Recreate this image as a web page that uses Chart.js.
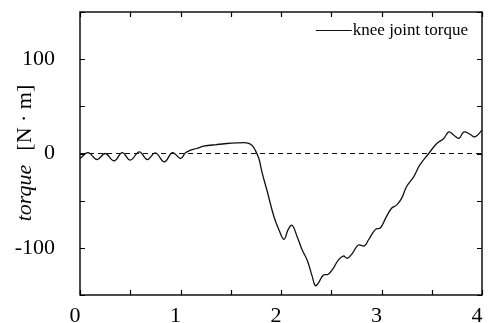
<!DOCTYPE html>
<html>
<head>
<meta charset="utf-8">
<script src="https://cdn.jsdelivr.net/npm/chart.js@4.4.1/dist/chart.umd.min.js"></script>
<style>
  html, body { margin: 0; padding: 0; background: #fff; }
  #wrap { width: 488px; height: 323px; position: relative; }
</style>
</head>
<body>
<div id="wrap"><canvas id="c" width="488" height="323"></canvas></div>
<script>
// ---- data ----
const timeValues = [
  0.00, 0.08, 0.17, 0.25, 0.34, 0.42, 0.50, 0.59, 0.67, 0.75, 0.84, 0.92, 1.00, 1.05,
  1.10, 1.16, 1.23, 1.36, 1.46, 1.56, 1.66, 1.71, 1.74, 1.78, 1.81, 1.86, 1.93, 1.98,
  2.03, 2.07, 2.11, 2.16, 2.21, 2.26, 2.31, 2.34, 2.37, 2.42, 2.47, 2.52, 2.57, 2.62,
  2.66, 2.71, 2.77, 2.83, 2.87, 2.94, 2.99, 3.04, 3.10, 3.15, 3.20, 3.25, 3.32, 3.38,
  3.47, 3.55, 3.62, 3.67, 3.72, 3.77, 3.82, 3.88, 3.93, 4.00
];
const torqueValues = [
  -5.3, 1.0, -6.4, 0.0, -7.8, 1.0, -7.0, 1.7, -6.4, 0.7, -8.9, 1.0, -5.3, 0.7,
  3.5, 5.3, 7.7, 9.5, 10.6, 11.2, 11.2, 8.8, 4.2, -5.3, -19.5, -39, -67, -81,
  -91, -81, -76, -88, -102, -113, -130, -140, -137.6, -129, -128, -121.7, -113, -108.7,
  -111, -105.8, -97, -98, -91.7, -80.4, -78.7, -68.8, -58, -54.7, -47.6, -35, -24.7, -12.4,
  0, 10.6, 16, 22.9, 19.4, 16, 22.9, 20.4, 17.6, 24.7
];
const zeroLineX = [0, 4];
const zeroLineY = [0, 0];
const xTickLabels = [0, 1, 2, 3, 4];
const yTickLabels = [-100, 0, 100];
const seriesLabel = 'knee joint torque';
const yTitleItalic = 'torque';
const yTitleUnit = '[N \u00b7 m]';

const SERIF = '"Liberation Serif", "Times New Roman", serif';

const frameTicks = {
  id: 'frameTicks',
  afterDraw(chart) {
    const { ctx, chartArea: a, scales } = chart;
    ctx.save();
    ctx.strokeStyle = '#000';
    ctx.lineWidth = 1.4;
    ctx.strokeRect(a.left, a.top, a.right - a.left, a.bottom - a.top);
    ctx.lineWidth = 1.2;
    const L = 5;
    scales.x.ticks.forEach(t => {
      const px = Math.round(scales.x.getPixelForValue(t.value)) + 0.5;
      ctx.beginPath();
      ctx.moveTo(px, a.bottom); ctx.lineTo(px, a.bottom - L);
      ctx.moveTo(px, a.top); ctx.lineTo(px, a.top + L);
      ctx.stroke();
    });
    scales.y.ticks.forEach(t => {
      const py = Math.round(scales.y.getPixelForValue(t.value)) + 0.5;
      ctx.beginPath();
      ctx.moveTo(a.left, py); ctx.lineTo(a.left + L, py);
      ctx.moveTo(a.right, py); ctx.lineTo(a.right - L, py);
      ctx.stroke();
    });
    // legend
    const ds = chart.data.datasets[0];
    ctx.fillStyle = '#000';
    ctx.font = '17px ' + SERIF;
    ctx.textBaseline = 'alphabetic';
    const textW = ctx.measureText(ds.label).width;
    const tx = a.right - 14 - textW;
    const ty = 35;
    ctx.lineWidth = 1.1;
    ctx.strokeStyle = ds.borderColor;
    ctx.beginPath();
    ctx.moveTo(tx - 37, ty - 4.5); ctx.lineTo(tx - 1, ty - 4.5);
    ctx.stroke();
    ctx.fillText(ds.label, tx, ty);
    // y title
    ctx.translate(25, 153);
    ctx.rotate(-Math.PI / 2);
    ctx.textBaseline = 'middle';
    ctx.font = 'italic 22px ' + SERIF;
    const w1 = ctx.measureText(yTitleItalic).width;
    ctx.font = '22px ' + SERIF;
    const w2 = ctx.measureText(yTitleUnit).width;
    const gap = 14;
    const total = w1 + gap + w2;
    let x0 = -total / 2;
    ctx.font = 'italic 22px ' + SERIF;
    ctx.fillText(yTitleItalic, x0, 0);
    ctx.font = '22px ' + SERIF;
    ctx.fillText(yTitleUnit, x0 + w1 + gap, 0);
    ctx.restore();
  }
};

new Chart(document.getElementById('c'), {
  type: 'line',
  data: {
    datasets: [
      {
        label: seriesLabel,
        data: timeValues.map((t, i) => ({ x: t, y: torqueValues[i] })),
        borderColor: '#111',
        borderWidth: 1.3,
        pointRadius: 0,
        tension: 0.4,
        fill: false
      },
      {
        label: 'zero',
        data: zeroLineX.map((t, i) => ({ x: t, y: zeroLineY[i] })),
        borderColor: '#111',
        borderWidth: 1,
        borderDash: [5, 4],
        pointRadius: 0,
        fill: false
      }
    ]
  },
  options: {
    responsive: false,
    animation: false,
    devicePixelRatio: 1,
    layout: { padding: { left: 0, right: 6, top: 12, bottom: 0 } },
    plugins: { legend: { display: false }, tooltip: { enabled: false } },
    scales: {
      x: {
        type: 'linear',
        min: 0, max: 4,
        grid: { display: false },
        border: { display: false },
        ticks: {
          stepSize: 0.5,
          autoSkip: false,
          maxRotation: 0,
          padding: 0,
          labelOffset: -5,
          color: '#000',
          font: { family: SERIF, size: 22 },
          callback: v => xTickLabels.includes(v) ? String(v) : ''
        },
        afterFit: s => { s.height = 28; s.paddingLeft = 0; s.paddingRight = 0; }
      },
      y: {
        min: -150, max: 150,
        grid: { display: false },
        border: { display: false },
        ticks: {
          stepSize: 50,
          autoSkip: false,
          padding: 17,
          color: '#000',
          font: { family: SERIF, size: 22 },
          callback: v => yTickLabels.includes(v) ? String(v) : ''
        },
        afterFit: s => { s.width = 80; s.paddingTop = 0; s.paddingBottom = 0; }
      }
    }
  },
  plugins: [frameTicks]
});
</script>
</body>
</html>
